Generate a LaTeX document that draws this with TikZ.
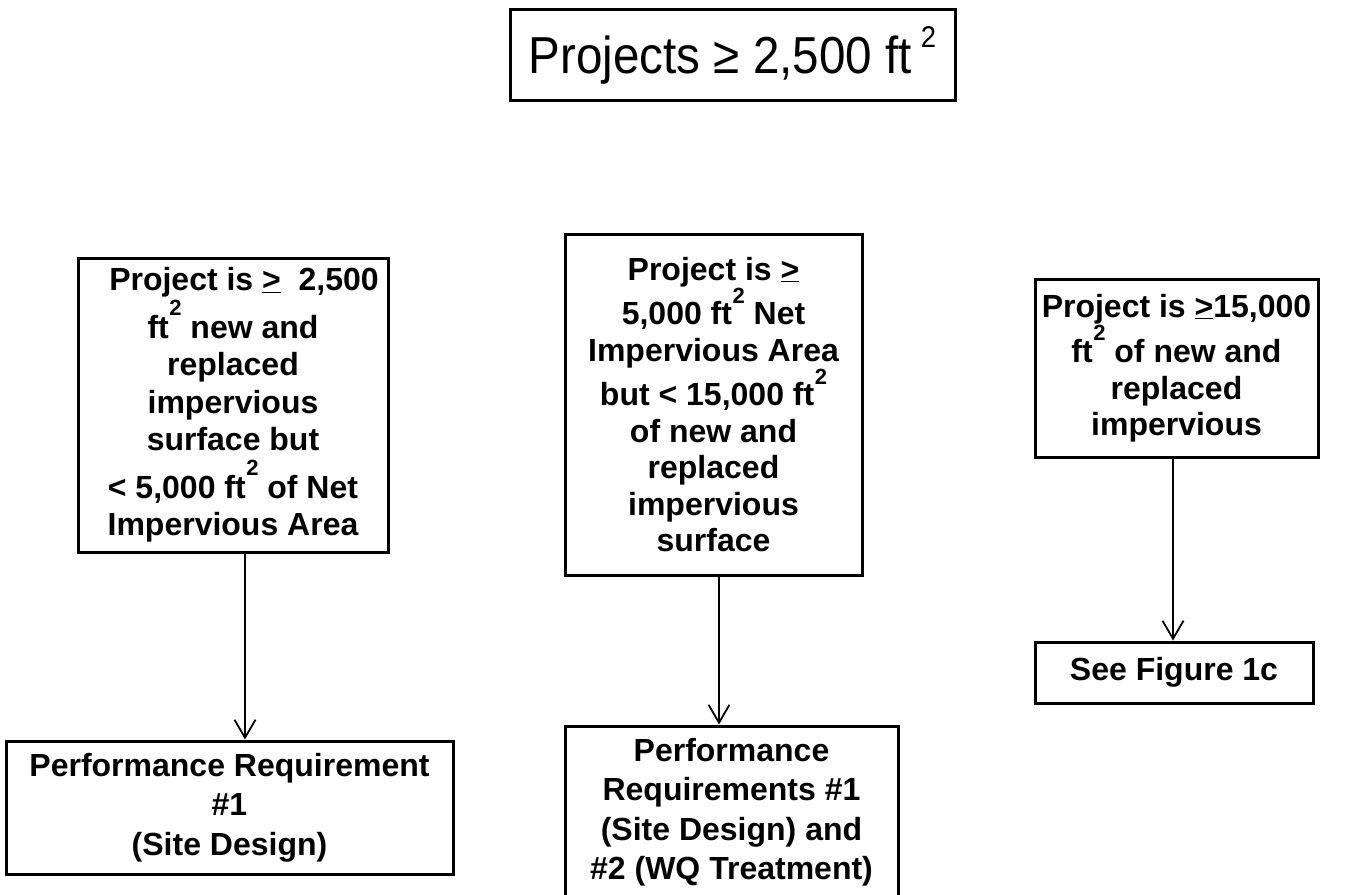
\documentclass[tikz,border=0pt]{standalone}
\usepackage{fontspec}
\setmainfont{Liberation Sans}
\newfontfamily\titlefont[FakeStretch=0.915]{Liberation Sans}
\usetikzlibrary{arrows.meta}
\newcommand{\sqb}{\kern0.5pt\smash{\raisebox{22.5pt}{\fontsize{22}{22}\selectfont\bfseries 2}}}
\newcommand{\sqm}{\kern0.5pt\smash{\raisebox{21pt}{\fontsize{22}{22}\selectfont\bfseries 2}}}
\newcommand{\sqt}{\kern9pt\smash{\raisebox{26pt}{\fontsize{30}{30}\selectfont 2}}}
\tikzset{
  box/.style={draw, line width=3pt, inner sep=0pt, align=center,
    font=\fontsize{32}{36.5}\selectfont\bfseries},
  lowbox/.style={box, font=\fontsize{32}{39.5}\selectfont\bfseries},
  arr/.style={line width=1.8pt, -{Straight Barb[length=18pt,width=21pt,line width=1.8pt]}}
}
\begin{document}
\begin{tikzpicture}[x=1pt,y=-1pt]
\useasboundingbox (0,0) rectangle (1348,894);
\node[box, minimum width=445pt, minimum height=91pt,
  font=\titlefont\fontsize{52}{52}\selectfont] (top) at (732.5,54.5)
  {\raisebox{-19pt}[0pt][0pt]{Projects ≥ 2,500 ft\sqt}};
\node[box, minimum width=310pt, minimum height=294pt,
  font=\fontsize{32}{37.5}\selectfont\bfseries] (L1) at (233,405)
  {\hspace*{22pt}Project is\ \underline{>}\ \ 2,500\\[10pt]ft\sqb{} new and\\replaced\\impervious\\surface but\\[10pt]< 5,000 ft\sqb{} of Net\\Impervious Area};
\node[box, minimum width=297pt, minimum height=341pt] (M1) at (713.5,404.5)
  {Project is \underline{>}\\[8pt]5,000 ft\sqm{} Net\\Impervious Area\\[8pt]but < 15,000 ft\sqm\\of new and\\replaced\\impervious\\surface};
\node[box, minimum width=283pt, minimum height=178pt] (R1) at (1176.5,368)
  {Project is \underline{>}15,000\\[9pt]ft\sqb{} of new and\\replaced\\impervious};
\node[lowbox, minimum width=278pt, minimum height=61pt] (R2) at (1174,672.5)
  {See Figure 1c};
\node[lowbox, minimum width=447pt, minimum height=133pt] (L2) at (229.5,807.5)
  {Performance Requirement\\\#1\\(Site Design)};
\node[lowbox, minimum width=333pt, minimum height=172pt] (M2) at (731.5,812)
  {Performance\\Requirements \#1\\(Site Design) and\\\#2 (WQ Treatment)};
\draw[arr] ([xshift=12pt]L1.south) -- ([xshift=12pt]L1.south |- L2.north);
\draw[arr] ([xshift=5.5pt]M1.south) -- ([xshift=5.5pt]M1.south |- M2.north);
\draw[arr] ([xshift=-3.5pt]R1.south) -- ([xshift=-3.5pt]R1.south |- R2.north);
\end{tikzpicture}
\end{document}
